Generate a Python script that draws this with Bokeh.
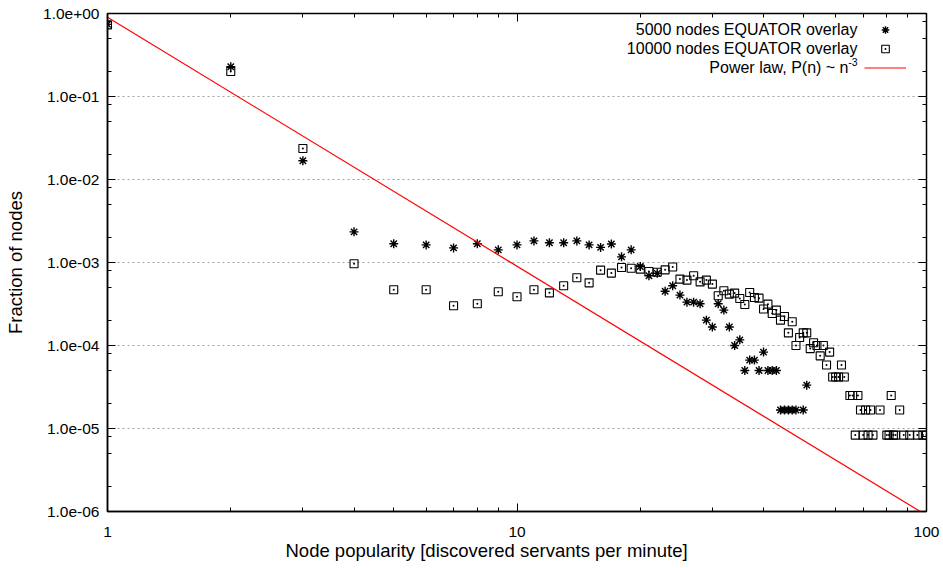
from bokeh.plotting import figure
from bokeh.models import (LogAxis, FixedTicker, CustomJSTickFormatter, Legend,
                          LegendItem, Label, Range1d, ColumnDataSource, Title)
from bokeh.core.properties import value
from bokeh.embed import file_html
from bokeh.resources import INLINE

FONT = "Liberation Sans"

# ---------------- data ----------------
n_5000 = [1, 2, 3, 4, 5, 6, 7, 8, 9, 10, 11, 12, 13, 14, 15, 16, 17, 18, 19, 20,
          21, 22, 23, 24, 25, 26, 27, 28, 29, 30, 31, 32, 33, 34, 35, 36, 37, 38,
          39, 40, 41, 42, 43, 44, 45, 46, 47, 48, 50, 51]
p_5000 = [0.74, 0.228, 0.0168, 0.00234, 0.00168, 0.00163, 0.00150, 0.00168,
          0.00142, 0.00163, 0.00182, 0.00173, 0.00173, 0.00182, 0.00163, 0.00152,
          0.00167, 0.00117, 0.00142, 0.000895, 0.000692, 0.000741, 0.000450,
          0.000524, 0.000405, 0.000333, 0.000333, 0.000318, 0.000202, 0.000167,
          0.000318, 0.000267, 0.000167, 0.000100, 0.000117, 0.0000500, 0.0000667,
          0.0000667, 0.0000500, 0.0000833, 0.0000500, 0.0000500, 0.0000500,
          0.0000167, 0.0000167, 0.0000167, 0.0000167, 0.0000167, 0.0000167,
          0.0000333]

n_10000 = [1, 2, 3, 4, 5, 6, 7, 8, 9, 10, 11, 12, 13, 14, 15, 16, 17, 18, 19, 20,
           21, 22, 23, 24, 25, 26, 27, 28, 29, 30, 31, 32, 33, 34, 35, 36, 37, 38,
           39, 40, 41, 42, 43, 44, 45, 46, 47, 48, 49, 50, 51, 52, 53, 54, 55, 56,
           57, 58, 59, 60, 61, 62, 63, 65, 66, 68, 67, 69, 70, 71, 72, 73, 74, 77,
           80, 81, 82, 83, 84, 86, 88, 91, 95, 98, 100]
p_10000 = [0.73, 0.20, 0.0236, 0.000965, 0.000469, 0.000469, 0.000301, 0.000318,
           0.000444, 0.000386, 0.000469, 0.000431, 0.000524, 0.000654, 0.000569,
           0.000809, 0.000745, 0.000871, 0.000851, 0.000832, 0.000780, 0.000762,
           0.000816, 0.000881, 0.000631, 0.000614, 0.000692, 0.000585, 0.000614,
           0.000549, 0.000397, 0.000456, 0.000416, 0.000428, 0.000368, 0.000312,
           0.000435, 0.000379, 0.000372, 0.000275, 0.000315, 0.000243, 0.000267,
           0.000202, 0.000224, 0.000142, 0.000193, 0.000100, 0.000125, 0.000142,
           0.000142, 0.0000917, 0.000108, 0.000100, 0.0000750, 0.000100,
           0.0000583, 0.0000833, 0.0000417, 0.0000417, 0.0000417, 0.0000583,
           0.0000417, 0.0000250, 0.0000250, 0.0000250, 0.00000833, 0.0000167,
           0.00000833, 0.0000167, 0.00000833, 0.0000167, 0.00000833, 0.0000167,
           0.00000833, 0.00000833, 0.0000250, 0.00000833, 0.00000833, 0.0000167,
           0.00000833, 0.00000833, 0.00000833, 0.00000833, 0.00000833]

power_n = [1, 100]
power_p = [0.9, 9.0e-7]

x_major = [1, 10, 100]
x_minor = [2, 3, 4, 5, 6, 7, 8, 9, 20, 30, 40, 50, 60, 70, 80, 90]
y_major = [1e-6, 1e-5, 1e-4, 1e-3, 1e-2, 1e-1, 1.0]
y_minor = [2e-6, 5e-6, 8e-6, 2e-5, 5e-5, 8e-5, 2e-4, 5e-4, 8e-4,
           2e-3, 5e-3, 8e-3, 2e-2, 5e-2, 8e-2, 2e-1, 5e-1, 8e-1]

legend_labels = ["5000 nodes EQUATOR overlay", "10000 nodes EQUATOR overlay",
                 "Power law, P(n) ~ n"]
legend_sup = "-3"
x_title = "Node popularity [discovered servants per minute]"
y_title = "Fraction of nodes"

# ---------------- figure ----------------
p = figure(width=943, height=568, x_axis_type="log", y_axis_type="log",
           x_range=Range1d(1, 100), y_range=Range1d(1e-6, 1.0),
           output_backend="svg", toolbar_location=None, title=None,
           min_border_left=107, min_border_right=17, min_border_top=13,
           min_border_bottom=57)
p.background_fill_color = "white"
p.border_fill_color = "white"
p.outline_line_color = "black"
p.outline_line_width = 1.5

xt = FixedTicker(ticks=x_major, minor_ticks=x_minor)
yt = FixedTicker(ticks=y_major, minor_ticks=y_minor)
xfmt = CustomJSTickFormatter(code="return tick.toFixed(0);")
yfmt = CustomJSTickFormatter(code="""
const s = tick.toExponential(1);
const parts = s.split('e');
const sign = parts[1][0];
let d = parts[1].slice(1);
if (d.length < 2) { d = '0' + d; }
return parts[0] + 'e' + sign + d;
""")

xa = p.xaxis[0]
ya = p.yaxis[0]
xa.ticker = xt
ya.ticker = yt
xa.formatter = xfmt
ya.formatter = yfmt
ya.axis_label = y_title

for ax in (xa, ya):
    ax.axis_line_color = "black"
    ax.axis_line_width = 1.5
    ax.major_tick_in = 8
    ax.major_tick_out = 0
    ax.minor_tick_in = 4
    ax.minor_tick_out = 0
    ax.major_tick_line_color = "black"
    ax.minor_tick_line_color = "black"
    ax.major_label_text_font = FONT
    ax.major_label_text_font_size = "15.5px"
    ax.major_label_text_color = "black"
    ax.axis_label_text_font = FONT
    ax.axis_label_text_font_size = "18.5px"
    ax.axis_label_text_font_style = "normal"
    ax.axis_label_text_color = "black"

xa.major_label_standoff = 15
ya.major_label_standoff = 8
ya.axis_label_standoff = 14

# x title (gnuplot puts it a bit left of the frame centre)
p.add_layout(Title(text=x_title, align="left", offset=178, standoff=-4,
                   text_font=FONT, text_font_size="18.5px",
                   text_font_style="normal", text_color="black"), "below")

# mirrored ticks on top and right
empty = CustomJSTickFormatter(code="return '';")
for ax, side in ((LogAxis(ticker=xt, formatter=empty), "above"),
                 (LogAxis(ticker=yt, formatter=empty), "right")):
    ax.axis_line_color = None
    ax.major_tick_in = 8
    ax.major_tick_out = 0
    ax.minor_tick_in = 4
    ax.minor_tick_out = 0
    ax.major_tick_line_color = "black"
    ax.minor_tick_line_color = "black"
    ax.major_label_text_font_size = "0px"
    ax.major_label_standoff = 0
    p.add_layout(ax, side)

p.xgrid.visible = False
p.ygrid.ticker = yt
p.ygrid.grid_line_color = "#a0a0a0"
p.ygrid.grid_line_dash = "2 3"
p.ygrid.grid_line_width = 1

# ---------------- data renderers ----------------
src1 = ColumnDataSource(dict(n=n_5000, p=p_5000))
src2 = ColumnDataSource(dict(n=n_10000, p=p_10000))
src3 = ColumnDataSource(dict(n=power_n, p=power_p))

r1 = p.scatter("n", "p", source=src1, marker="asterisk", size=9,
               line_color="black", line_width=1.4)
r2 = p.scatter("n", "p", source=src2, marker="square_dot", size=8,
               line_color="black", fill_color=None, line_width=1.1)
r3 = p.line("n", "p", source=src3, line_color="red", line_width=1.2)

# ---------------- legend (gnuplot style: text left, symbol right) -------------
legend = Legend(items=[LegendItem(label=value(""), renderers=[r1]),
                       LegendItem(label=value(""), renderers=[r2]),
                       LegendItem(label=value(""), renderers=[r3])],
                location=(757, 434), orientation="vertical",
                glyph_width=42, glyph_height=19, label_width=0, label_height=19,
                label_standoff=0, padding=0, spacing=0, margin=0,
                border_line_alpha=0, background_fill_alpha=0,
                label_text_font_size="1px")
p.add_layout(legend)

row_y = [482, 463, 444]
for txt, yy in zip(legend_labels[:2], row_y[:2]):
    p.add_layout(Label(x=750, y=yy, x_units="screen", y_units="screen",
                       text=txt, text_align="right", text_baseline="middle",
                       text_font=FONT, text_font_size="16px",
                       text_color="black"))
p.add_layout(Label(x=741, y=row_y[2], x_units="screen", y_units="screen",
                   text=legend_labels[2], text_align="right",
                   text_baseline="middle", text_font=FONT,
                   text_font_size="16px", text_color="black"))
p.add_layout(Label(x=750, y=row_y[2] + 6, x_units="screen", y_units="screen",
                   text=legend_sup, text_align="right", text_baseline="middle",
                   text_font=FONT, text_font_size="10.5px", text_color="black"))

open("out.html", "w").write(file_html(p, INLINE))
